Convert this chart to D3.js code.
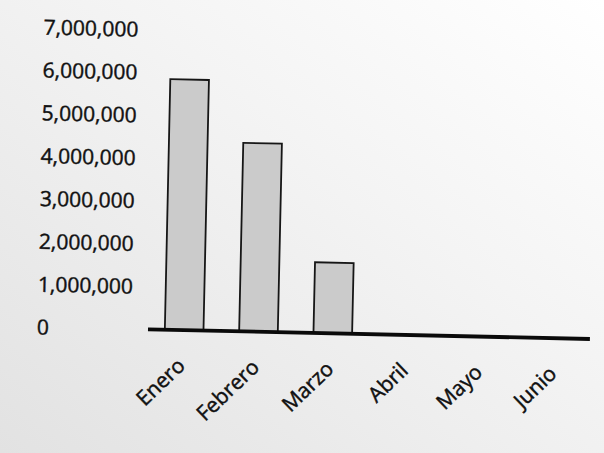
<!DOCTYPE html>
<html>
<head>
<meta charset="utf-8">
<script src="https://cdn.jsdelivr.net/npm/d3@7"></script>
<style>
	body { margin: 0; background: #fff; }
	.tick-label { font-family: "Open Sans", sans-serif; font-size: 21px; fill: #111; stroke: #111; stroke-width: 0.45px; }
</style>
</head>
<body>
<div id="chart"><svg></svg></div>
<script>
//Data.
const months = ['Enero', 'Febrero', 'Marzo', 'Abril', 'Mayo', 'Junio'];
const sales = [5850000, 4400000, 1650000, 0, 0, 0];
const yTicks = [0, 1000000, 2000000, 3000000, 4000000, 5000000, 6000000, 7000000];

const width = 604, height = 453;
//The scan is slightly tilted; the chart is drawn straight and then turned.
const tilt = 1.25;
const origin = {x: 150, y: 329.4};

const svg = d3.select('#chart').select('svg')
	.attr('width', width)
	.attr('height', height);

//Paper tone: white at the top right, greyer towards the bottom left.
const defs = svg.append('defs');
const grad = defs.append('linearGradient')
	.attr('id', 'paper')
	.attr('x1', 1).attr('y1', 0)
	.attr('x2', 0).attr('y2', 1);
grad.append('stop').attr('offset', '0%').attr('stop-color', '#ffffff');
grad.append('stop').attr('offset', '40%').attr('stop-color', '#f4f4f4');
grad.append('stop').attr('offset', '100%').attr('stop-color', '#e2e2e2');

svg.append('rect')
	.attr('width', width)
	.attr('height', height)
	.style('fill', 'url(#paper)');

const g_el = svg.append('g')
	.attr('transform', `rotate(${tilt}, ${origin.x}, ${origin.y})`);

const x = d3.scaleBand()
	.domain(months)
	.range([147, 593])
	.paddingInner(0.48)
	.paddingOuter(0.24);

const y = d3.scaleLinear()
	.domain([0, 7000000])
	.range([origin.y, 29.5]);

//Value labels on the left, left aligned as in the original.
const fmt = d3.format(',');
g_el.append('g')
	.selectAll('text')
	.data(yTicks)
	.join('text')
	.attr('class', 'tick-label')
	.attr('x', 37)
	.attr('y', d => y(d))
	.attr('dy', '0.36em')
	.attr('text-anchor', 'start')
	.text(d => fmt(d));

//Bars.
g_el.append('g')
	.selectAll('rect')
	.data(months.map((m, i) => ({month: m, value: sales[i]})).filter(d => d.value > 0))
	.join('rect')
	.attr('x', d => x(d.month))
	.attr('y', d => y(d.value))
	.attr('width', x.bandwidth())
	.attr('height', d => y(0) - y(d.value))
	.style('fill', '#cbcbcb')
	.style('stroke', '#161616')
	.style('stroke-width', 1.8);

//Category axis: heavy baseline, no ticks.
const xAxis = g_el.append('g')
	.attr('transform', `translate(0, ${origin.y})`)
	.call(d3.axisBottom(x).tickSize(0).tickSizeOuter(0));
xAxis.select('.domain')
	.attr('d', `M148,0H590`)
	.style('stroke', '#0a0a0a')
	.style('stroke-width', 3.8);
xAxis.selectAll('.tick text')
	.attr('class', 'tick-label')
	.attr('font-family', null)
	.attr('font-size', null)
	.attr('fill', null)
	.attr('text-anchor', 'end')
	.attr('x', 0)
	.attr('y', 0)
	.attr('dy', 0)
	.attr('transform', 'translate(3, 37) rotate(-45)');
</script>
</body>
</html>
